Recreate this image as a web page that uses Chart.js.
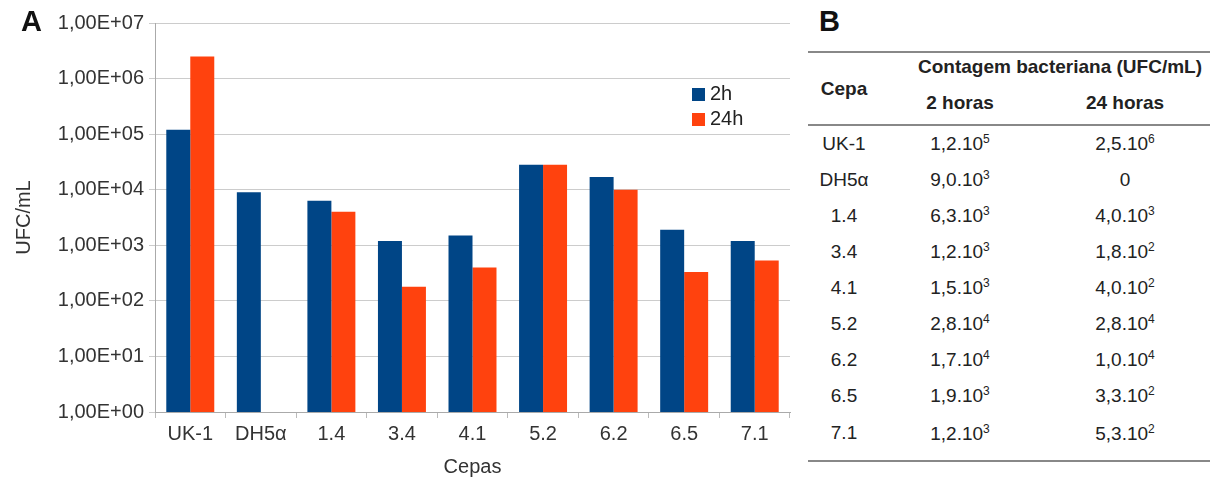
<!DOCTYPE html>
<html>
<head>
<meta charset="utf-8">
<script src="https://cdn.jsdelivr.net/npm/chart.js@4.4.1/dist/chart.umd.min.js"></script>
<style>
  body { margin: 0; background: #fff; font-family: "Liberation Sans", Arial, sans-serif; }
  #wrap { position: relative; width: 1211px; height: 483px; }
  #chartBox { position: absolute; left: 0; top: 0; width: 800px; height: 483px; }
  .panel { position: absolute; font-weight: bold; font-size: 29px; color: #111; }
  #legend { position: absolute; left: 692px; top: 81px; font-size: 20px; color: #222; line-height: 25px; }
  #legend span.sw { display: inline-block; width: 13px; height: 13px; margin-right: 5px; vertical-align: -1px; }
  #tbl { position: absolute; left: 808px; top: 51px; width: 402px; border-collapse: collapse; font-size: 19px; color: #222; }
  #tbl th { font-weight: bold; padding: 0; }
  #tbl td { text-align: center; padding: 0; height: 36px; }
  #tbl tr.h1 th { border-top: 2px solid #888; height: 28px; }
  #tbl tr.h2 th { border-bottom: 2px solid #888; height: 43px; }
  #tbl tr.last td { border-bottom: 2px solid #888; height: 38px; vertical-align: top; padding-top: 8px; }
  #tbl sup { font-size: 12px; }
</style>
</head>
<body>
<div id="wrap">
  <div id="chartBox"><canvas id="chart"></canvas></div>
  <div class="panel" style="left:21px;top:5px;">A</div>
  <div class="panel" style="left:819px;top:5px;">B</div>
  <div id="legend"></div>
  <table id="tbl"></table>
</div>
<script>
const categories = ['UK-1', 'DH5α', '1.4', '3.4', '4.1', '5.2', '6.2', '6.5', '7.1'];
const seriesNames = ['2h', '24h'];
const valores2h = [1.2e5, 9.0e3, 6.3e3, 1.2e3, 1.5e3, 2.8e4, 1.7e4, 1.9e3, 1.2e3];
const valores24h = [2.5e6, 0, 4.0e3, 1.8e2, 4.0e2, 2.8e4, 1.0e4, 3.3e2, 5.3e2];
const tickValues = [1, 10, 100, 1000, 1e4, 1e5, 1e6, 1e7];
const tickLabels = ['1,00E+00', '1,00E+01', '1,00E+02', '1,00E+03', '1,00E+04', '1,00E+05', '1,00E+06', '1,00E+07'];
const colors = ['#004586', '#ff420e'];

// zero cannot be drawn on a log axis
const toLog = arr => arr.map(v => (v > 0 ? v : null));

const fonte = { family: 'Liberation Sans', size: 20 };

new Chart(document.getElementById('chart'), {
  type: 'bar',
  data: {
    labels: categories,
    datasets: [
      { label: seriesNames[0], data: toLog(valores2h), backgroundColor: colors[0] },
      { label: seriesNames[1], data: toLog(valores24h), backgroundColor: colors[1] },
    ],
  },
  options: {
    responsive: true,
    maintainAspectRatio: false,
    animation: false,
    layout: { padding: { top: 23, right: 10, bottom: 0, left: 12 } },
    datasets: { bar: { categoryPercentage: 0.68, barPercentage: 1.0 } },
    plugins: { legend: { display: false }, tooltip: { enabled: false } },
    scales: {
      x: {
        grid: { drawOnChartArea: false, color: '#bbb', tickLength: 6 },
        border: { color: '#aaa' },
        ticks: { color: '#333', font: fonte, padding: 4 },
        title: { display: true, text: 'Cepas', color: '#333', font: fonte, padding: { top: 5 } },
      },
      y: {
        type: 'logarithmic',
        min: 1,
        max: 1e7,
        afterBuildTicks: scale => { scale.ticks = tickValues.map(v => ({ value: v })); },
        afterFit: scale => { scale.width = 143; },
        grid: { color: '#ccc', tickLength: 6 },
        border: { color: '#aaa' },
        ticks: {
          color: '#333',
          font: fonte,
          padding: 5,
          callback: v => tickLabels[tickValues.indexOf(v)] ?? '',
        },
        title: { display: true, text: 'UFC/mL', color: '#333', font: fonte, padding: 0 },
      },
    },
  },
});

// legend
const legend = document.getElementById('legend');
seriesNames.forEach((name, i) => {
  const d = document.createElement('div');
  d.innerHTML = `<span class="sw" style="background:${colors[i]}"></span>${name}`;
  legend.appendChild(d);
});

// table B
function fmt(v) {
  if (v === 0) return '0';
  const exp = Math.floor(Math.log10(v));
  const m = (v / Math.pow(10, exp)).toFixed(1).replace('.', ',');
  return `${m}.10<sup>${exp}</sup>`;
}
const tbl = document.getElementById('tbl');
let html = '<tr class="h1"><th rowspan="2" style="width:72px;border-bottom:2px solid #888;border-top:2px solid #888">Cepa</th>' +
  '<th colspan="2" style="text-align:right;padding-right:8px">Contagem bacteriana (UFC/mL)</th></tr>' +
  '<tr class="h2"><th style="width:160px">2 horas</th><th>24 horas</th></tr>';
categories.forEach((c, i) => {
  const cls = i === categories.length - 1 ? ' class="last"' : '';
  html += `<tr${cls}><td>${c}</td><td>${fmt(valores2h[i])}</td><td>${fmt(valores24h[i])}</td></tr>`;
});
tbl.innerHTML = html;
</script>
</body>
</html>
